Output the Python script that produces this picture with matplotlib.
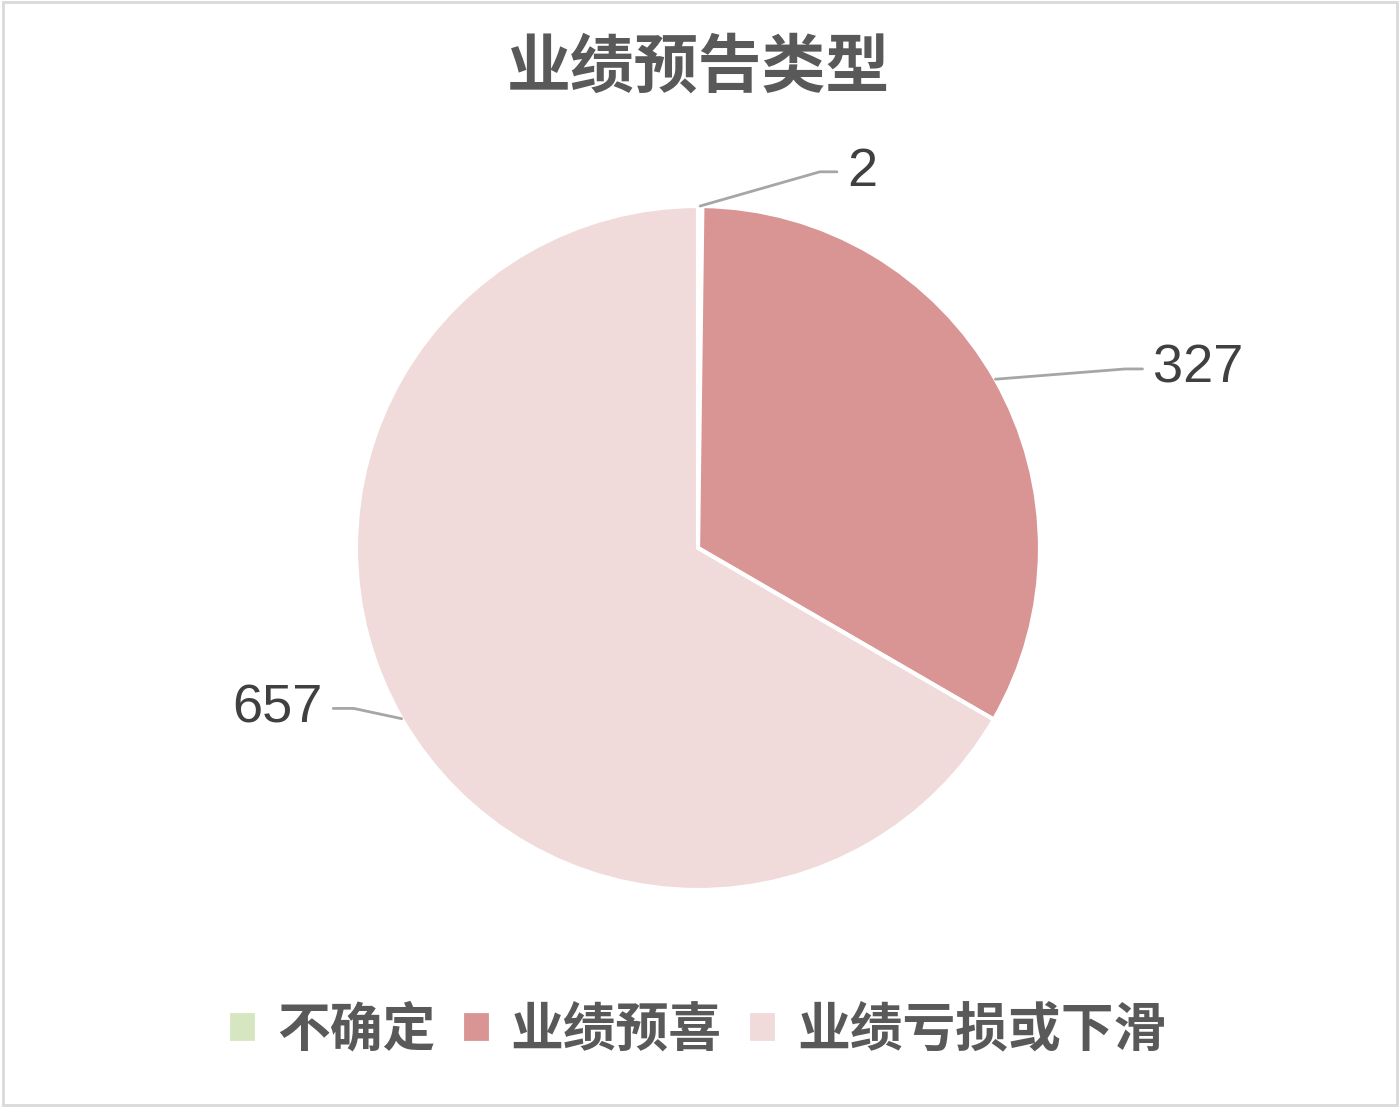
import numpy as np
import matplotlib
matplotlib.use('Agg')
import matplotlib.pyplot as plt
from matplotlib.patches import Rectangle

plt.rcParams['font.family'] = ['Noto Sans CJK SC', 'DejaVu Sans']

title = '业绩预告类型'
categories = ['不确定', '业绩预喜', '业绩亏损或下滑']
values = [2, 327, 657]
colors = ['#d6e6c0', '#d99594', '#f0dada']

# pixel geometry of the reference
W, H = 1400, 1107
cx, cy, R = 698, 548, 342

fig = plt.figure(figsize=(W / 100, H / 100), dpi=100)
ax = fig.add_axes([0, 0, 1, 1])

wedges, _ = ax.pie(values, colors=colors, startangle=90, counterclock=False,
                   radius=1.0, wedgeprops=dict(edgecolor='white', linewidth=3))
ax.set_xlim(-cx / R, (W - cx) / R)
ax.set_ylim(-(H - cy) / R, cy / R)
ax.set_aspect('equal', adjustable='datalim')
ax.axis('off')

# leader lines + value labels: (elbow dx, dy, horizontal len) in radius units
leader = [(0.35, 0.10, 0.05), (0.38, 0.03, 0.05), (-0.14, 0.03, -0.06)]
for w, v, (ex, ey, hl) in zip(wedges, values, leader):
    ang = np.deg2rad((w.theta1 + w.theta2) / 2)
    x0, y0 = np.cos(ang), np.sin(ang)
    x1, y1 = x0 + ex, y0 + ey
    x2 = x1 + hl
    ax.plot([x0, x1, x2], [y0, y1, y1], color='#a6a6a6', lw=2, solid_capstyle='round')
    ha = 'left' if hl > 0 else 'right'
    ax.text(x2 + np.sign(hl) * 0.03, y1, str(v), ha=ha, va='center',
            fontsize=39, color='#404040', family=['Liberation Sans', 'DejaVu Sans'])

fig.text(0.4986, 1 - 68 / H, title, ha='center', va='center',
         fontsize=46, fontweight='bold', color='#595959')

leg = fig.legend(wedges, categories, loc='center', bbox_to_anchor=(0.498, 1 - 1030 / H),
                 ncol=3, frameon=False, fontsize=38, handlelength=0.55, handleheight=0.55,
                 handletextpad=0.38, columnspacing=0.5, labelcolor='#595959')
for t in leg.get_texts():
    t.set_fontweight('bold')

fig.patches.append(Rectangle((0.002, 0.002), 0.996, 0.996, transform=fig.transFigure,
                             fill=False, edgecolor='#d9d9d9', linewidth=2))

fig.savefig('out.png', dpi=100, facecolor='white')
